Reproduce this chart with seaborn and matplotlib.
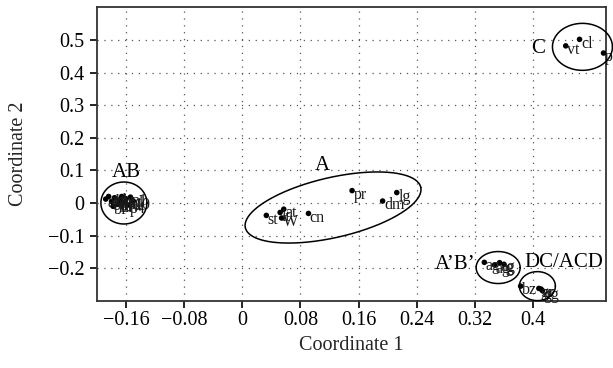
import numpy as np
import pandas as pd
import matplotlib
matplotlib.use("Agg")
import matplotlib.pyplot as plt
import seaborn as sns

# ---------------- data ----------------
names = ["ab", "ac", "bd", "bl", "b", "bn", "bt", "bw", "pd", "p4", "p1", "10", "bf", "df",
         "st", "lt", "at", "W", "cn", "pr", "dm", "lg",
         "vt", "cl", "p",
         "ag", "ag", "ag", "g",
         "bz", "gr", "ar", "gg"]
coord1 = [-0.188, -0.184, -0.180, -0.176, -0.172, -0.169, -0.166, -0.163, -0.160, -0.157, -0.154, -0.150, -0.178, -0.170,
          0.033, 0.052, 0.057, 0.054, 0.091, 0.151, 0.193, 0.2125,
          0.445, 0.464, 0.497,
          0.333, 0.347, 0.354, 0.360,
          0.383, 0.408, 0.411, 0.413]
coord2 = [0.012, 0.020, 0.005, 0.016, -0.004, 0.010, 0.020, 0.002, 0.013, -0.006, 0.018, 0.006, -0.010, -0.002,
          -0.038, -0.029, -0.019, -0.046, -0.032, 0.038, 0.006, 0.032,
          0.482, 0.502, 0.460,
          -0.182, -0.190, -0.183, -0.188,
          -0.255, -0.262, -0.264, -0.269]

cluster_names = ["AB", "A", "C", "A\u2019B\u2019", "DC/ACD"]
cluster_label_x = [-0.160, 0.110, 0.407, 0.293, 0.443]
cluster_label_y = [0.095, 0.115, 0.473, -0.188, -0.183]
# ellipse centres (data) and semi-axes (pixels), rotation (deg)
ell_cx = [-0.163, 0.1248, 0.468, 0.352, 0.406]
ell_cy = [0.000, -0.0138, 0.479, -0.198, -0.255]
ell_a = [23, 90, 30, 22, 18]
ell_b = [21, 30, 23.5, 16, 14.5]
ell_ang = [0, 13, 0, 0, 0]

xticks = [-0.16, -0.08, 0, 0.08, 0.16, 0.24, 0.32, 0.4]
xtick_labels = ["\u22120.16", "\u22120.08", "0", "0.08", "0.16", "0.24", "0.32", "0.4"]
yticks = [-0.2, -0.1, 0, 0.1, 0.2, 0.3, 0.4, 0.5]
ytick_labels = ["\u22120.2", "\u22120.1", "0", "0.1", "0.2", "0.3", "0.4", "0.5"]

df = pd.DataFrame({"name": names, "c1": coord1, "c2": coord2})

# ---------------- style ----------------
sns.set_theme(style="ticks")
plt.rcParams["font.family"] = ["Liberation Serif", "DejaVu Serif"]
plt.rcParams["axes.unicode_minus"] = True

fig = plt.figure(figsize=(6.13, 3.68), dpi=100)
ax = fig.add_axes([97 / 613, 1 - 300.8 / 368, (605.7 - 97) / 613, (300.8 - 7.4) / 368])

ax.set_xlim(-0.2, 0.5)
ax.set_ylim(-0.3, 0.6)

sns.scatterplot(data=df, x="c1", y="c2", ax=ax, color="black", s=16,
                edgecolor="none", zorder=3, legend=False)

for n, x, y in zip(names, coord1, coord2):
    ax.annotate(n, (x, y), xytext=(1, -3), textcoords="offset points",
                ha="left", va="center", fontsize=11.5, color="#1a1a1a",
                annotation_clip=False)

for n, x, y in zip(cluster_names, cluster_label_x, cluster_label_y):
    ax.text(x, y, n, ha="center", va="center", fontsize=15, color="black")

def draw_ellipse(cx, cy, a, b, ang):
    t = np.linspace(0, 2 * np.pi, 300)
    p0 = ax.transData.transform((cx, cy))
    th = np.deg2rad(ang)
    dx = a * np.cos(t) * np.cos(th) - b * np.sin(t) * np.sin(th)
    dy = a * np.cos(t) * np.sin(th) + b * np.sin(t) * np.cos(th)
    pts = ax.transData.inverted().transform(np.column_stack([p0[0] + dx, p0[1] + dy]))
    ax.plot(pts[:, 0], pts[:, 1], color="black", lw=1.1, clip_on=False, zorder=4)

for cx, cy, a, b, ang in zip(ell_cx, ell_cy, ell_a, ell_b, ell_ang):
    draw_ellipse(cx, cy, a, b, ang)

ax.set_xticks(xticks)
ax.set_xticklabels(xtick_labels)
ax.set_yticks(yticks)
ax.set_yticklabels(ytick_labels)
ax.tick_params(axis="both", which="major", direction="out", length=5, width=1.2,
               labelsize=14.5, colors="black")
ax.tick_params(axis="x", pad=2)
ax.tick_params(axis="y", pad=4)
ax.tick_params(top=False, right=False)

ax.grid(True, linestyle=(0, (1, 4.5)), color="#555555", linewidth=0.9)
ax.set_axisbelow(True)

for sp in ax.spines.values():
    sp.set_visible(True)
    sp.set_color("#333333")
    sp.set_linewidth(1.3)

ax.set_xlabel("Coordinate 1", fontsize=14.5, labelpad=5)
ax.set_ylabel("Coordinate 2", fontsize=14.5, labelpad=14)

fig.savefig("out.png", dpi=100)
